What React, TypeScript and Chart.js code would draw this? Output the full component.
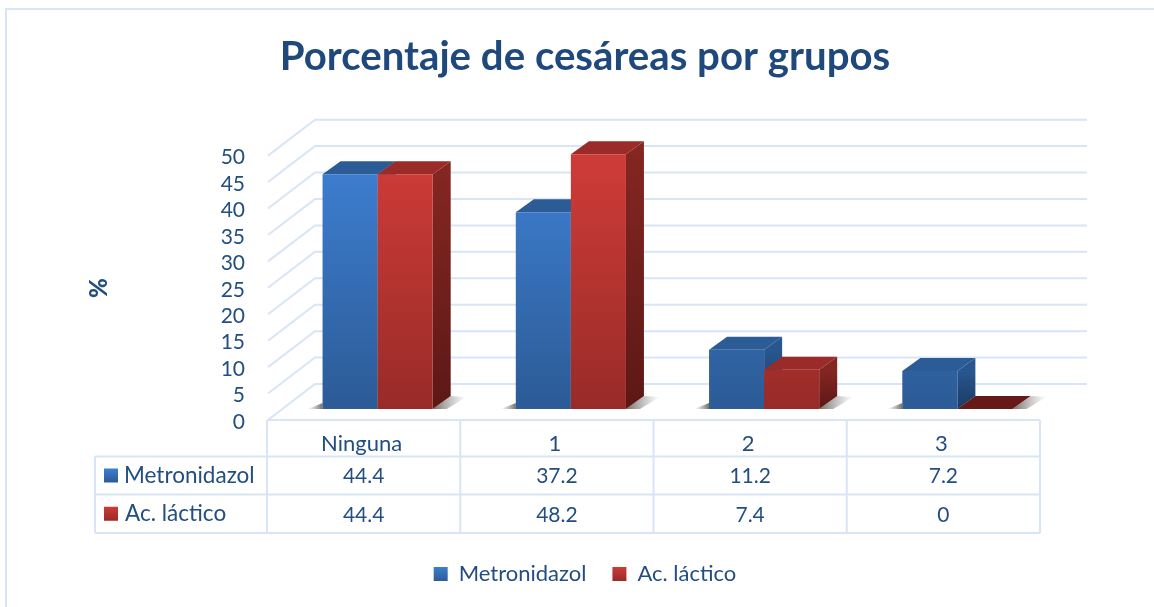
import React, { useEffect, useRef } from "react";
import { Chart, registerables } from "chart.js";

Chart.register(...registerables);

const categories = ["Ninguna", "1", "2", "3"];
const metronidazol = [44.4, 37.2, 11.2, 7.2];
const acLactico = [44.4, 48.2, 7.4, 0];
const seriesNames = ["Metronidazol", "Ac. láctico"];
const titleText = "Porcentaje de cesáreas por grupos";
const yTitle = "%";

const FONT = "Lato";
const TEXT = "#234e81";
const TITLE = "#1f497d";
const LINE = "#d8e5f6";
const DX = 18;
const DY = 13;
const BACK_DX = 34;
const BACK_DY = 25;
const FRONT_DX = -13;
const FRONT_DY = 11;
const TABLE_DX = -14;

const palette = [
  { top: "#3d7ed0", bottom: "#2c5b96", cap: "#2c5c96", sideTop: "#285790", sideBottom: "#1b3a63" },
  { top: "#cd3b37", bottom: "#982b28", cap: "#9a2b29", sideTop: "#842622", sideBottom: "#5c1816" },
];

function vGrad(ctx: CanvasRenderingContext2D, y0: number, y1: number, a: string, b: string) {
  const g = ctx.createLinearGradient(0, y0, 0, y1);
  g.addColorStop(0, a);
  g.addColorStop(1, b);
  return g;
}

function poly(ctx: CanvasRenderingContext2D, pts: number[][], fill: any) {
  ctx.beginPath();
  pts.forEach((p, i) => (i ? ctx.lineTo(p[0], p[1]) : ctx.moveTo(p[0], p[1])));
  ctx.closePath();
  ctx.fillStyle = fill;
  ctx.fill();
}

const wallPlugin = {
  id: "wall",
  beforeDraw(chart: any) {
    const { ctx, chartArea: a, scales } = chart;
    ctx.save();
    ctx.fillStyle = "#fff";
    ctx.fillRect(0, 0, chart.width, chart.height);
    ctx.strokeStyle = LINE;
    ctx.lineWidth = 2;
    // outer frame: only top and left edges are visible in the picture
    ctx.beginPath();
    ctx.moveTo(chart.width, 9);
    ctx.lineTo(6, 9);
    ctx.lineTo(6, chart.height);
    ctx.stroke();
    // back wall and left wall, following the y scale
    scales.y.ticks.forEach((t: any) => {
      const y = scales.y.getPixelForValue(t.value);
      ctx.beginPath();
      ctx.moveTo(a.left + FRONT_DX, y + FRONT_DY);
      ctx.lineTo(a.left + BACK_DX, y - BACK_DY);
      ctx.lineTo(a.right + BACK_DX - 1, y - BACK_DY);
      ctx.stroke();
    });
    ctx.restore();
  },
  beforeDatasetsDraw(chart: any) {
    const { ctx } = chart;
    // first series at the back, second one in front of its side face
    [0, 1].forEach((i) => {
      const c = palette[i];
      const meta = chart.getDatasetMeta(i);
      ctx.save();
      meta.data.forEach((bar: any) => {
        const half = bar.width / 2;
        const l = bar.x - half;
        const r = bar.x + half;
        const t = bar.y;
        const b = bar.base;
        // floor shadow
        const sr = ctx.createLinearGradient(r, 0, r + 34, 0);
        sr.addColorStop(0, "rgba(70,60,50,0.75)");
        sr.addColorStop(1, "rgba(120,120,120,0)");
        poly(ctx, [[r, b], [r + DX, b - DY], [r + 34, b - DY + 1], [r + 14, b]], sr);
        if (i === 0) {
          const sl = ctx.createLinearGradient(l - 15, 0, l, 0);
          sl.addColorStop(0, "rgba(120,120,120,0)");
          sl.addColorStop(1, "rgba(70,60,50,0.75)");
          poly(ctx, [[l - 15, b], [l, b - 6], [l, b]], sl);
        }
        if (b - t < 1) {
          // a zero-height bar shows only a flat dark plate
          poly(ctx, [[l, b], [l + DX, b - DY], [r + DX, b - DY], [r, b]], "#661a18");
          return;
        }
        poly(ctx, [[r, t], [r + DX, t - DY], [r + DX, b - DY], [r, b]], vGrad(ctx, t, b, c.sideTop, c.sideBottom));
        poly(ctx, [[l, t], [l + DX, t - DY], [r + DX, t - DY], [r, t]], c.cap);
      });
      ctx.restore();
      meta.controller.draw();
    });
    return false;
  },
  afterDraw(chart: any) {
    const { ctx, chartArea: a, scales } = chart;
    const x = scales.x;
    const step = (a.right - a.left) / categories.length;
    const left = 95;
    const colX = categories.map((_, i) => a.left + TABLE_DX + i * step);
    const endX = a.left + TABLE_DX + categories.length * step;
    const rows = [420, 456.5, 494.5, 533];
    ctx.save();
    ctx.strokeStyle = LINE;
    ctx.lineWidth = 2;
    ctx.beginPath();
    [...colX, endX].forEach((cx) => {
      ctx.moveTo(cx, rows[0]);
      ctx.lineTo(cx, rows[3]);
    });
    ctx.moveTo(colX[0], rows[0]);
    ctx.lineTo(endX, rows[0]);
    rows.slice(1).forEach((ry) => {
      ctx.moveTo(left, ry);
      ctx.lineTo(endX, ry);
    });
    ctx.moveTo(left, rows[1]);
    ctx.lineTo(left, rows[3]);
    ctx.stroke();

    ctx.textBaseline = "middle";
    const series = [metronidazol, acLactico];
    series.forEach((vals, s) => {
      const cy = (rows[s + 1] + rows[s + 2]) / 2;
      ctx.fillStyle = vGrad(ctx, cy - 7, cy + 7, palette[s].top, palette[s].bottom);
      ctx.fillRect(104, cy - 7, 14, 14);
      ctx.fillStyle = TEXT;
      ctx.textAlign = "left";
      ctx.font = `22.5px ${FONT}`;
      ctx.fillText(seriesNames[s], s === 0 ? 124 : 125, cy);
      ctx.textAlign = "center";
      ctx.font = `21px ${FONT}`;
      vals.forEach((v, i) => {
        ctx.fillText(String(v), x.getPixelForTick(i) + TABLE_DX, cy + 1);
      });
    });
    // axis title
    ctx.save();
    ctx.translate(99, 288);
    ctx.rotate(-Math.PI / 2);
    ctx.font = `900 24px ${FONT}`;
    ctx.textAlign = "center";
    ctx.fillStyle = TEXT;
    ctx.fillText(yTitle, 0, 0);
    ctx.restore();
    ctx.restore();
  },
};

export default function App() {
  const ref = useRef<HTMLCanvasElement>(null);
  useEffect(() => {
    const canvas = ref.current!;
    const ctx = canvas.getContext("2d")!;
    const fillFor = (s: number) => (c: any) => {
      const area = c.chart.chartArea;
      if (!area) return palette[s].top;
      return vGrad(ctx, area.top + 20, area.bottom, palette[s].top, palette[s].bottom);
    };
    const chart = new Chart(canvas, {
      type: "bar",
      data: {
        labels: categories,
        datasets: [
          { label: seriesNames[0], data: metronidazol, backgroundColor: fillFor(0) },
          { label: seriesNames[1], data: acLactico, backgroundColor: fillFor(1) },
        ],
      },
      plugins: [wallPlugin],
      options: {
        responsive: false,
        animation: false,
        layout: { padding: { left: 16, right: 0, top: 0, bottom: 12 } },
        datasets: { bar: { categoryPercentage: 0.57, barPercentage: 1, borderWidth: 0 } },
        plugins: {
          tooltip: { enabled: false },
          title: {
            display: true,
            text: titleText,
            color: TITLE,
            font: { family: FONT, size: 40.2, weight: "bold", lineHeight: 1.2 },
            padding: { top: 33, bottom: 63.4 },
          },
          legend: {
            position: "bottom",
            labels: {
              color: TEXT,
              font: { family: FONT, size: 22 },
              boxWidth: 14,
              boxHeight: 14,
              padding: 26,
              generateLabels: () =>
                seriesNames.map((n, i) => ({
                  text: n,
                  datasetIndex: i,
                  fontColor: TEXT,
                  lineWidth: 0,
                  strokeStyle: "transparent",
                  fillStyle: vGrad(ctx, 567, 581, palette[i].top, palette[i].bottom),
                })),
            },
          },
        },
        scales: {
          x: {
            grid: { display: false },
            border: { display: false },
            afterFit: (s: any) => {
              s.height = 128;
            },
            ticks: {
              color: TEXT,
              font: { family: FONT, size: 22 },
              padding: 14,
              labelOffset: -16,
              autoSkip: false,
              maxRotation: 0,
            },
          },
          y: {
            min: 0,
            max: 50,
            grid: { display: false, drawTicks: false },
            border: { display: false },
            afterFit: (s: any) => {
              s.width = 265;
            },
            ticks: {
              stepSize: 5,
              autoSkip: false,
              color: TEXT,
              font: { family: FONT, size: 21 },
              padding: 36,
              labelOffset: 13,
            },
          },
          yRight: {
            position: "right",
            display: true,
            min: 0,
            max: 50,
            grid: { display: false, drawTicks: false },
            border: { display: false },
            ticks: { display: false },
            afterFit: (s: any) => {
              s.width = 100;
            },
          },
        },
      } as any,
    });
    return () => chart.destroy();
  }, []);
  return (
    <div style={{ position: "fixed", left: 0, top: 0, width: 1154, height: 607 }}>
      <canvas ref={ref} width={1154} height={607} style={{ display: "block" }} />
    </div>
  );
}
